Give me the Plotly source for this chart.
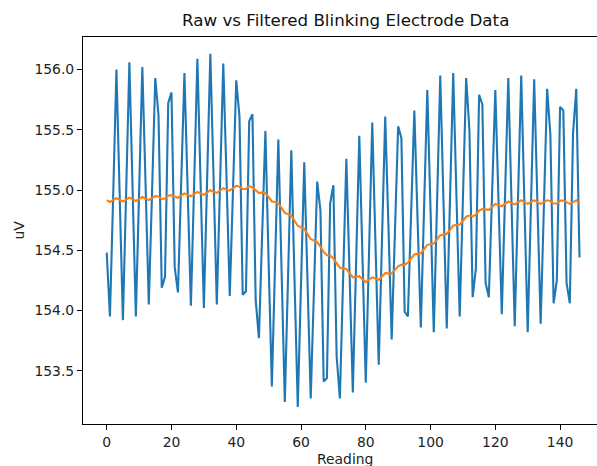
import plotly.graph_objects as go

readings = list(range(147))

raw_uv = [
    154.48, 153.95, 154.95, 156.00, 154.96, 153.92, 154.98, 156.06, 155.00, 153.95,
    154.98, 156.02, 155.05, 154.05, 154.98, 155.93, 155.62, 154.19, 154.28, 155.72,
    155.81, 154.36, 154.15, 155.05, 155.97, 155.00, 154.04, 155.05, 156.09, 155.05,
    154.02, 155.08, 156.13, 155.10, 154.05, 155.05, 156.05, 155.10, 154.12, 155.00,
    155.91, 155.61, 154.13, 154.16, 155.57, 155.63, 154.09, 153.77, 154.62, 155.49,
    154.40, 153.37, 154.40, 155.42, 154.33, 153.24, 154.28, 155.33, 154.25, 153.20,
    154.22, 155.23, 154.25, 153.27, 154.17, 155.07, 154.83, 153.41, 153.44, 154.89,
    155.04, 153.62, 153.27, 154.27, 155.26, 154.30, 153.32, 154.38, 155.45, 154.42,
    153.40, 154.48, 155.56, 154.55, 153.55, 154.58, 155.61, 154.70, 153.76, 154.65,
    155.53, 155.43, 153.99, 153.95, 154.80, 155.66, 154.75, 153.86, 154.85, 155.83,
    154.83, 153.82, 154.88, 155.95, 154.90, 153.85, 154.92, 155.97, 154.95, 153.95,
    154.93, 155.93, 155.50, 154.11, 154.35, 155.79, 155.71, 154.23, 154.11, 154.97,
    155.83, 154.90, 153.97, 154.95, 155.93, 154.90, 153.87, 154.92, 155.95, 154.88,
    153.82, 154.87, 155.92, 154.90, 153.89, 154.86, 155.84, 155.46, 154.06, 154.25,
    155.69, 155.66, 154.23, 154.06, 155.47, 155.84, 154.44,
]

filtered_uv = [
    154.915, 154.901, 154.917, 154.933, 154.919, 154.905, 154.921, 154.937, 154.923, 154.909,
    154.925, 154.942, 154.929, 154.916, 154.933, 154.950, 154.947, 154.927, 154.929, 154.955,
    154.957, 154.948, 154.936, 154.954, 154.972, 154.960, 154.948, 154.966, 154.984, 154.972,
    154.960, 154.979, 154.998, 154.987, 154.976, 154.996, 155.015, 155.005, 154.995, 155.015,
    155.035, 155.028, 155.008, 155.008, 155.032, 155.022, 155.000, 154.975, 154.980, 154.975,
    154.940, 154.905, 154.900, 154.890, 154.850, 154.810, 154.800, 154.787, 154.745, 154.703,
    154.690, 154.677, 154.635, 154.593, 154.580, 154.567, 154.530, 154.486, 154.458, 154.457,
    154.432, 154.395, 154.355, 154.350, 154.345, 154.310, 154.275, 154.280, 154.285, 154.260,
    154.235, 154.255, 154.275, 154.265, 154.255, 154.282, 154.310, 154.308, 154.305, 154.338,
    154.367, 154.381, 154.378, 154.398, 154.430, 154.465, 154.470, 154.475, 154.510, 154.545,
    154.550, 154.555, 154.590, 154.625, 154.630, 154.635, 154.670, 154.705, 154.710, 154.713,
    154.745, 154.778, 154.788, 154.781, 154.795, 154.830, 154.842, 154.840, 154.835, 154.860,
    154.885, 154.875, 154.865, 154.885, 154.905, 154.893, 154.881, 154.898, 154.915, 154.900,
    154.885, 154.900, 154.915, 154.900, 154.885, 154.900, 154.915, 154.908, 154.888, 154.888,
    154.912, 154.912, 154.900, 154.885, 154.900, 154.915, 154.885,
]

x_ticks = [0, 20, 40, 60, 80, 100, 120, 140]
y_ticks = [153.5, 154.0, 154.5, 155.0, 155.5, 156.0]

FONT = "DejaVu Sans"

fig = go.Figure()
fig.add_trace(go.Scatter(x=readings, y=raw_uv, mode="lines",
                         line=dict(color="#1f77b4", width=2.1), name="Raw"))
fig.add_trace(go.Scatter(x=readings, y=filtered_uv, mode="lines",
                         line=dict(color="#ff7f0e", width=2.1), name="Filtered"))

fig.update_layout(
    width=597, height=466,
    margin=dict(l=83, r=0, t=37, b=42),
    paper_bgcolor="white", plot_bgcolor="white",
    showlegend=False,
    font=dict(family=FONT, size=13.9, color="black"),
    xaxis=dict(range=[-7.32, 151.4], tickvals=x_ticks, ticktext=[str(v) for v in x_ticks],
               showgrid=False, zeroline=False, showline=True, mirror=True,
               linecolor="black", linewidth=1, ticks="outside", ticklen=5,
               tickwidth=1, tickcolor="black", tickfont=dict(family=FONT, size=13.9, color="#222")),
    yaxis=dict(range=[153.058, 156.27], tickvals=y_ticks, ticktext=[f"{v:.1f}" for v in y_ticks],
               showgrid=False, zeroline=False, showline=True, mirror=False,
               linecolor="black", linewidth=1, ticks="outside", ticklen=5,
               tickwidth=1, tickcolor="black", tickfont=dict(family=FONT, size=13.9, color="#222")),
    annotations=[
        dict(text="Raw vs Filtered Blinking Electrode Data", xref="paper", yref="paper",
             x=0.51, y=(466 - 20 - 42) / 387, xanchor="center", yanchor="middle",
             showarrow=False, font=dict(family=FONT, size=16.7, color="#111")),
        dict(text="uV", xref="paper", yref="paper", x=(18 - 83) / 514, y=0.5,
             xanchor="center", yanchor="middle", textangle=-90, showarrow=False,
             font=dict(family=FONT, size=13.9, color="#222")),
        dict(text="Reading", xref="paper", yref="paper", x=0.51, y=(424 - 459) / 387,
             xanchor="center", yanchor="middle", showarrow=False,
             font=dict(family=FONT, size=13.9, color="#222")),
    ],
)

fig.write_html("out.html")
